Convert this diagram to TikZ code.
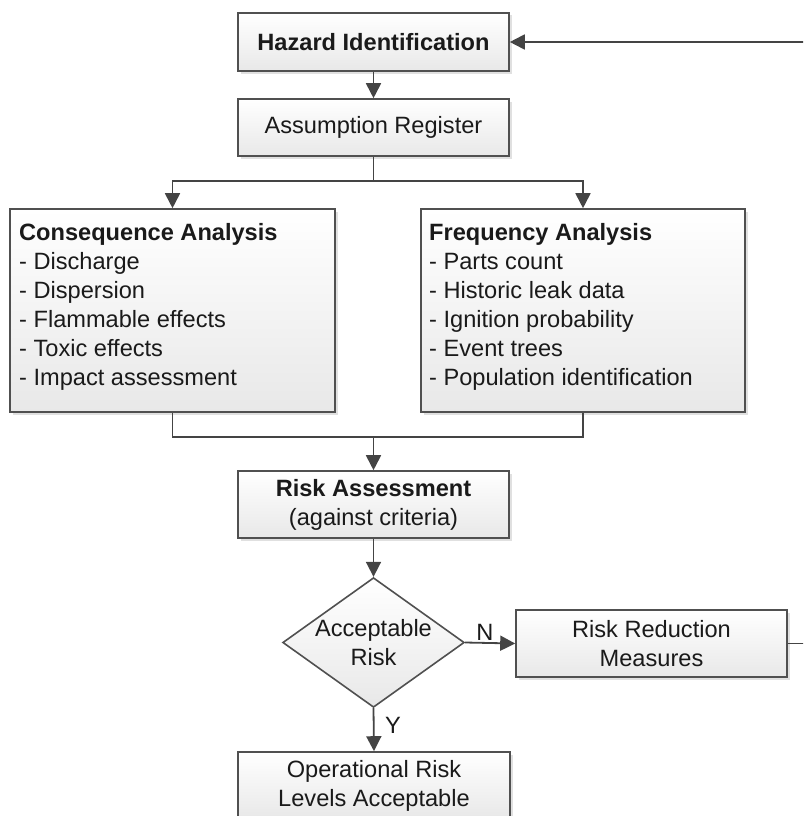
\documentclass[tikz,border=0pt]{standalone}
\usepackage{fontspec}
\setmainfont{Liberation Sans}
\usetikzlibrary{arrows.meta,shapes.geometric,shadows}
\definecolor{edgegray}{HTML}{505050}
\definecolor{conngray}{HTML}{444444}
\definecolor{txtcol}{HTML}{1A1A1A}
\begin{document}
\begin{tikzpicture}[x=1pt,y=-1pt,
  basefont/.style={font=\fontsize{23.6}{29}\selectfont, text=txtcol},
  box/.style={basefont, draw=edgegray, line width=1.6pt, top color=white, bottom color=gray!18,
    drop shadow={shadow xshift=2.5pt, shadow yshift=-2.5pt, fill=gray!40, opacity=0.6},
    align=center, inner sep=0pt},
  listtext/.style={basefont, align=left, inner sep=0pt, anchor=north west},
  decision/.style={basefont, diamond, draw=edgegray, line width=1.6pt, top color=white, bottom color=gray!18,
    aspect=1.4, inner sep=0pt, minimum width=181pt, minimum height=129pt, align=center},
  conn/.style={draw=conngray, line width=1.8pt},
  arr/.style={conn, -{Triangle[length=15pt,width=15pt]}},
  lbl/.style={basefont, inner sep=0pt}]
\useasboundingbox (0,0) rectangle (803,816);
\clip (0,0) rectangle (803,816);

\node[box, minimum width=271pt, minimum height=58pt] (haz) at (373.5,42) {\textbf{Hazard Identification}};
\node[box, minimum width=271pt, minimum height=57pt] (asm) at (373.5,127.5) {Assumption Register};
\node[box, minimum width=325pt, minimum height=203pt] (cons) at (172.5,310.5) {};
\node[listtext] (constext) at (19,223) {\textbf{Consequence Analysis}\\- Discharge\\- Dispersion\\- Flammable effects\\- Toxic effects\\- Impact assessment};
\node[box, minimum width=324pt, minimum height=203pt] (freq) at (583,310.5) {};
\node[listtext] (freqtext) at (429,223) {\textbf{Frequency Analysis}\\- Parts count\\- Historic leak data\\- Ignition probability\\- Event trees\\- Population identification};
\node[box, minimum width=271pt, minimum height=67pt] (ra) at (373.5,504.5) {\textbf{Risk Assessment}\\(against criteria)};
\node[decision] (dia) at (373.5,642.5) {Acceptable\\Risk};
\node[box, minimum width=271pt, minimum height=67pt] (rr) at (651.5,643.5) {Risk Reduction\\Measures};
\node[box, minimum width=272pt, minimum height=67pt] (op) at (374,785.5) {Operational Risk\\Levels Acceptable};

\node[lbl] (lbln) at (485,632) {N};
\node[lbl] (lbly) at (393,725) {Y};

\coordinate (split) at (373.5,181);
\coordinate (merge) at (373.5,437);
\coordinate (fbA) at (830,643.5);
\coordinate (fbB) at (830,42);

\draw[arr] (haz.south) -- (asm.north);
\draw[conn] (asm.south) -- (split);
\draw[arr] (split) -| (cons.north);
\draw[arr] (split) -| (freq.north);
\draw[conn] (cons.south) |- (merge);
\draw[conn] (freq.south) |- (merge);
\draw[arr] (merge) -- (ra.north);
\draw[arr] (ra.south) -- (dia.north);
\draw[arr] (dia.east) -- (rr.west);
\draw[arr] (dia.south) -- (op.north);
\draw[arr] (rr.east) -- (fbA) -- (fbB) -- (haz.east);
\end{tikzpicture}
\end{document}
